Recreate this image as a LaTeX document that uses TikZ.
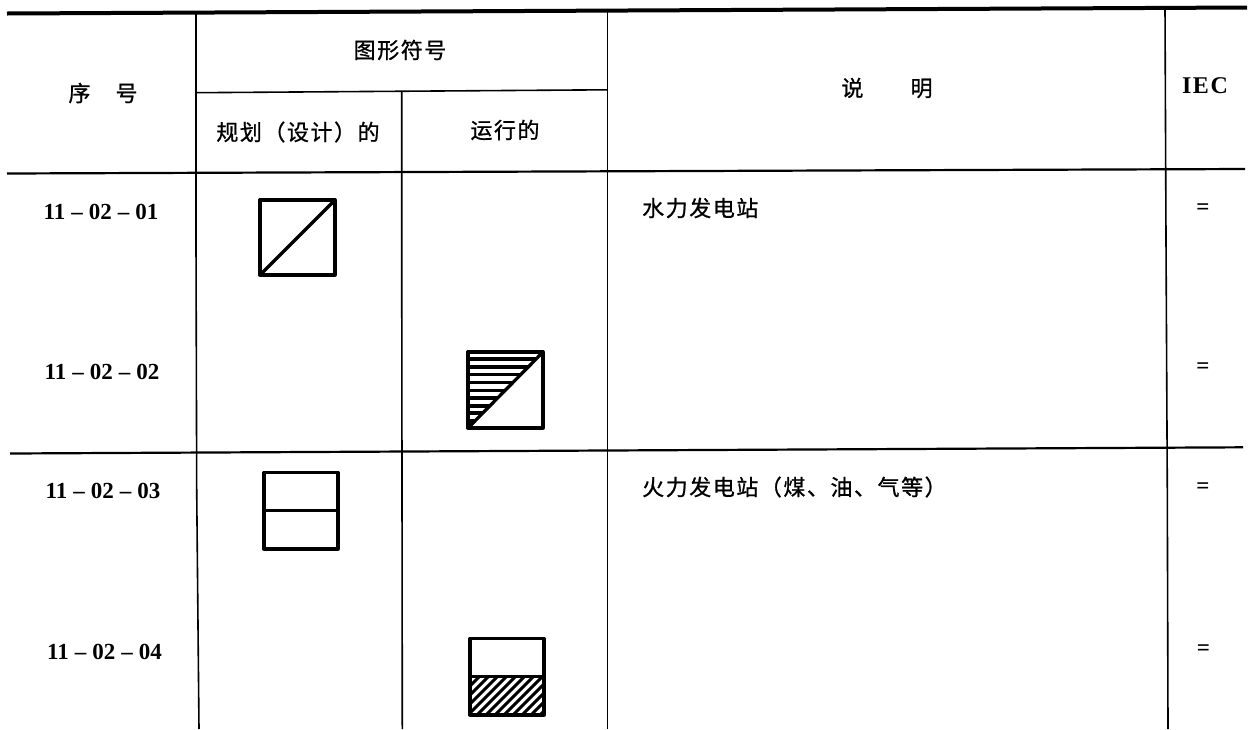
\documentclass[tikz,border=0pt]{standalone}
\usepackage{fontspec}
\setmainfont{Liberation Serif}
\newfontfamily\cjk{Noto Sans CJK SC}[LetterSpace=7,FakeBold=0.9]
\newcommand{\dsh}{\hspace{6pt}--\hspace{6pt}}
\begin{document}
\begin{tikzpicture}[x=1pt,y=-1pt,
 thin line/.style={line width=1.6pt,black},
 rule/.style={line width=2.2pt,black},
 sym/.style={line width=3.3pt,black,line join=round},
 hatchh/.style={line width=3.8pt,black},
 hatchd/.style={line width=3pt,black},
 cn/.style={font=\cjk\fontsize{22}{24}\selectfont,inner sep=0pt,text=black},
 num/.style={font=\bfseries\fontsize{23}{25}\selectfont,inner sep=0pt,text=black},
 eqs/.style={font=\bfseries\fontsize{23}{25}\selectfont,inner sep=0pt,text=black}]
\useasboundingbox (0,0) rectangle (1248,729);
\fill[white] (0,0) rectangle (1248,729);
% rules
\draw[line width=4pt] (7,13.5) -- (1247,7.5);
\draw[rule] (7,173.5) -- (1245,169);
\draw[rule] (10,453.5) -- (1243,447.3);
\draw[thin line] (196,92.7) -- (607,89.8);
\draw[thin line] (196,13) -- (196,240) -- (196.7,490) -- (199,729);
\draw[thin line] (401.7,91) -- (401.7,240) -- (402.3,729);
\draw[thin line] (607.3,10) -- (607.3,729);
\draw[thin line] (1165,8) -- (1166,240) -- (1167.3,490) -- (1168,729);
% headers
\node[cn] (h1) at (103,93) {序\hspace{25pt}号};
\node[cn] (h2) at (400,50) {图形符号};
\node[cn] (h3) at (298,132) {规划（设计）的};
\node[cn] (h4) at (505,130) {运行的};
\node[cn] (h5) at (887,88) {说\hspace{47pt}明};
\node[inner sep=0pt,font=\bfseries\fontsize{24}{26}\selectfont] (h6) at (1205,85.5) {I\kern1.5pt E\kern1.5pt C};
% numbers
\node[num] (n1) at (101,212) {11\dsh 02\dsh 01};
\node[num] (n2) at (102,372) {11\dsh 02\dsh 02};
\node[num] (n3) at (103,491) {11\dsh 02\dsh 03};
\node[num] (n4) at (104.5,652) {11\dsh 02\dsh 04};
% descriptions
\node[cn,anchor=west] (d1) at (642,208) {水力发电站};
\node[cn,anchor=west] (d2) at (642,487) {火力发电站（煤、油、气等）};
\node[eqs] (e1) at (1203,209.5) {=};
\node[eqs] (e2) at (1203,368.5) {=};
\node[eqs] (e3) at (1203,488.5) {=};
\node[eqs] (e4) at (1203.5,650.5) {=};
% symbol 1
\draw[sym] (260,200) rectangle (335,275);
\draw[sym] (260,275) -- (335,200);
% symbol 2
\foreach \y in {358.8,366.7,374.5,382.5,390.5,398.3,405.8,413,421} {\draw[hatchh] (468,\y) -- ({543-(\y-352)},\y);}
\draw[sym] (468,352) rectangle (543,428);
\draw[sym] (468,428) -- (543,352);
% symbol 3
\draw[sym] (264,472.5) rectangle (338,549);
\draw[sym] (264,510.7) -- (338,510.7);
% symbol 4
\begin{scope}
\clip (470,677) rectangle (544,715);
\foreach \k in {0,9,...,126} \draw[hatchd] (470+\k-38,715) -- (470+\k,677);
\end{scope}
\draw[sym] (470,638.5) rectangle (544,715);
\draw[sym] (470,676.7) -- (544,676.7);
\end{tikzpicture}
\end{document}
